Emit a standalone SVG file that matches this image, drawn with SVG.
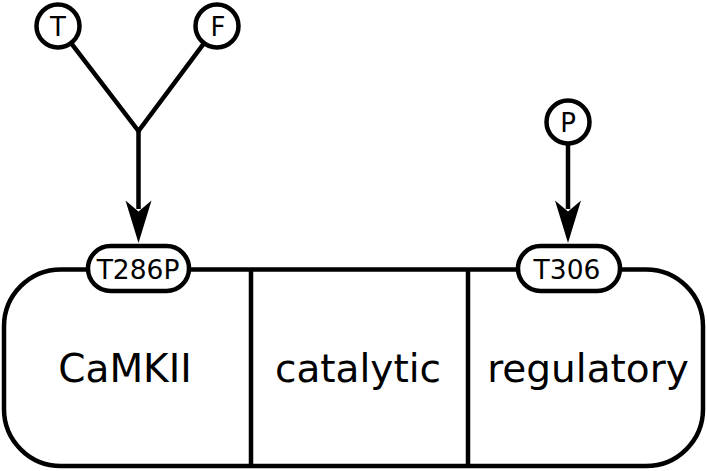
<svg xmlns="http://www.w3.org/2000/svg" width="707" height="471" viewBox="0 0 707 471">
<defs>
<style>
.s{fill:none;stroke:#000;stroke-width:4.5;}
.w{fill:#fff;stroke:#000;stroke-width:4.5;}
.big{font-family:"DejaVu Sans",sans-serif;font-size:39px;text-anchor:middle;fill:#000;}
.med{font-family:"DejaVu Sans",sans-serif;font-size:26.5px;text-anchor:middle;fill:#000;}
.sm{font-family:"DejaVu Sans",sans-serif;font-size:26px;text-anchor:middle;fill:#000;}
</style>
</defs>
<rect width="707" height="471" fill="#fff"/>
<g id="connectors">
<path class="s" d="M71.1,43.1 L138.5,131 L204.1,43.2" stroke-linejoin="miter"/>
<path class="s" d="M138.5,131 V209"/>
<path d="M125.5,200.5 L138.5,211.5 L151.5,200.5 L138.5,243 Z" fill="#000"/>
<path class="s" d="M568,143.5 V209"/>
<path d="M555,200.5 L568,211.5 L581,200.5 L568,243 Z" fill="#000"/>
</g>
<g id="CaMKII">
<rect class="w" x="4" y="269.5" width="699" height="196.5" rx="57" ry="57"/>
<line class="s" x1="251" y1="269.5" x2="251" y2="466"/>
<line class="s" x1="468" y1="269.5" x2="468" y2="466"/>
<text class="big" x="125" y="382">CaMKII</text>
<text class="big" x="358" y="382">catalytic</text>
<text class="big" x="588" y="382">regulatory</text>
</g>
<g id="T286P">
<rect class="w" x="88" y="246" width="101" height="45" rx="22.5" ry="22.5"/>
<text class="med" x="138" y="279">T286P</text>
</g>
<g id="T306">
<rect class="w" x="518" y="246" width="102" height="45" rx="22.5" ry="22.5"/>
<text class="med" x="567" y="279">T306</text>
</g>
<g id="T">
<circle class="w" cx="58" cy="26" r="21.5"/>
<text class="sm" x="58" y="35.5">T</text>
</g>
<g id="F">
<circle class="w" cx="217" cy="26" r="21.5"/>
<text class="sm" x="218" y="35.5">F</text>
</g>
<g id="P">
<circle class="w" cx="568" cy="122" r="21.5"/>
<text class="sm" x="568" y="131.5">P</text>
</g>
</svg>
